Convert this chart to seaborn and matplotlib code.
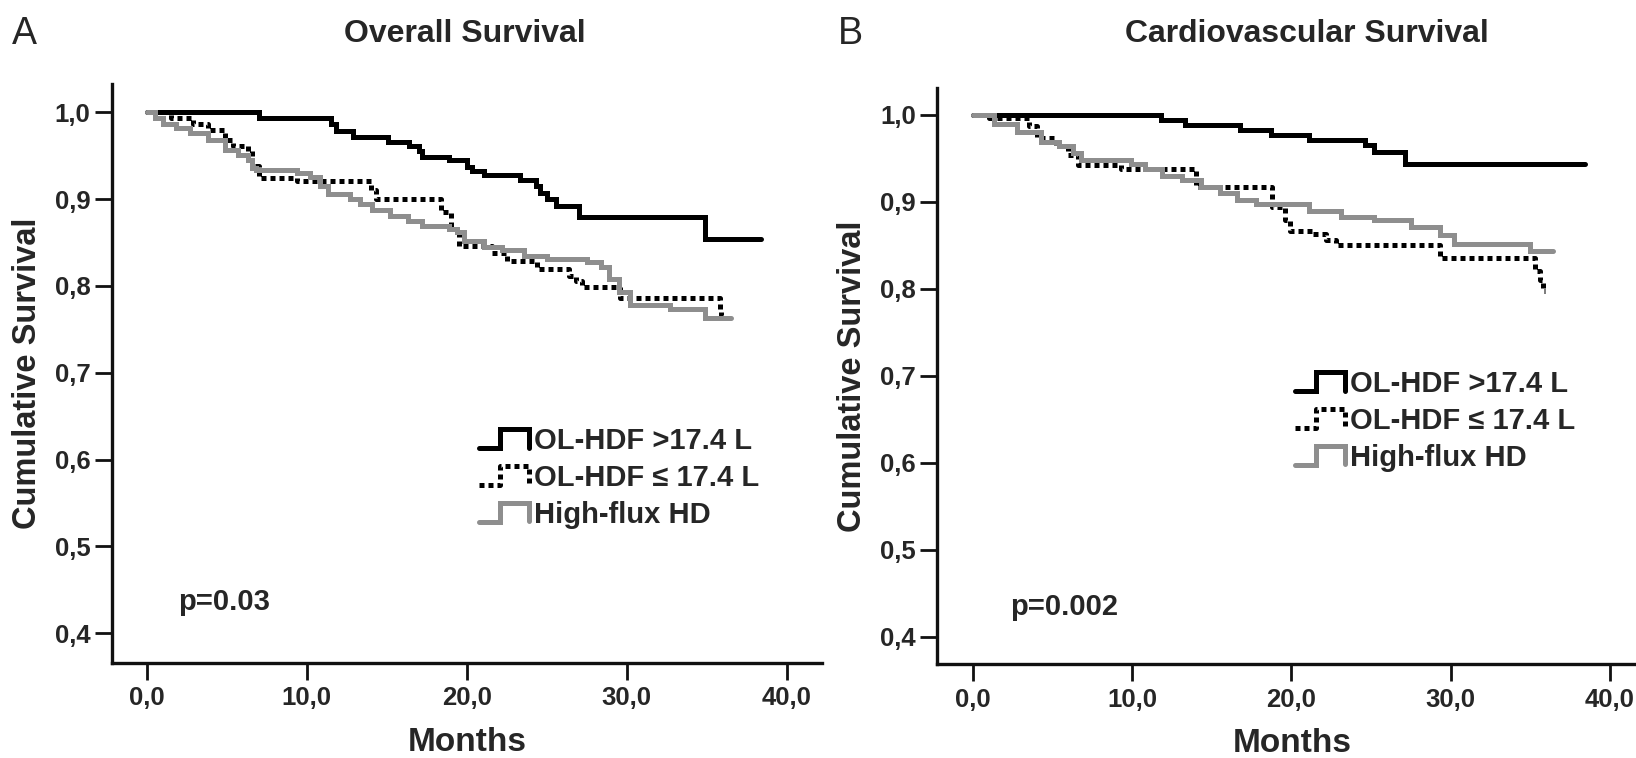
import numpy as np
import pandas as pd
import matplotlib
matplotlib.use("Agg")
import matplotlib.pyplot as plt
import seaborn as sns
from matplotlib.lines import Line2D
from matplotlib.legend_handler import HandlerLine2D

# ---------------- data (step change points: time in months, survival) ----------------
groups = ["OL-HDF >17.4 L", "OL-HDF \u2264 17.4 L", "High-flux HD"]

os_hi_t = [0, 7.0, 11.5, 11.8, 12.9, 15.1, 16.4, 17.0, 17.2, 18.9, 20.0, 20.3, 21.1, 23.3, 24.3, 24.6, 25.0, 25.6, 27.0, 34.9, 38.4]
os_hi_s = [1.0, 0.994, 0.987, 0.978, 0.972, 0.966, 0.961, 0.955, 0.949, 0.945, 0.937, 0.932, 0.928, 0.922, 0.915, 0.907, 0.900, 0.892, 0.879, 0.854, 0.854]

os_lo_t = [0, 1.5, 2.9, 3.8, 4.9, 5.4, 6.3, 6.6, 7.0, 9.4, 14.0, 14.3, 18.4, 19.0, 19.5, 21.6, 22.5, 24.4, 26.4, 26.8, 27.2, 29.6, 35.8, 35.9, 36.1]
os_lo_s = [1.0, 0.993, 0.987, 0.980, 0.968, 0.961, 0.955, 0.938, 0.924, 0.921, 0.910, 0.900, 0.885, 0.865, 0.846, 0.838, 0.829, 0.819, 0.812, 0.806, 0.799, 0.786, 0.772, 0.767, 0.767]

os_hd_t = [0, 0.5, 1.0, 1.8, 2.7, 3.8, 4.9, 5.7, 6.3, 6.6, 6.8, 9.4, 10.2, 10.8, 11.3, 12.7, 13.3, 14.1, 15.2, 16.3, 17.2, 18.9, 19.4, 19.8, 21.1, 22.2, 23.6, 25.0, 27.5, 28.4, 28.9, 29.5, 30.2, 32.7, 34.9, 36.5]
os_hd_s = [1.0, 0.993, 0.987, 0.982, 0.976, 0.968, 0.957, 0.951, 0.945, 0.936, 0.933, 0.930, 0.926, 0.915, 0.906, 0.900, 0.894, 0.887, 0.881, 0.875, 0.869, 0.865, 0.862, 0.852, 0.845, 0.841, 0.835, 0.831, 0.827, 0.822, 0.808, 0.793, 0.778, 0.773, 0.763, 0.763]

cv_hi_t = [0, 11.8, 13.3, 16.8, 18.7, 21.1, 24.6, 25.2, 27.1, 38.4]
cv_hi_s = [1.0, 0.994, 0.988, 0.983, 0.977, 0.971, 0.965, 0.958, 0.944, 0.944]

cv_lo_t = [0, 1.0, 3.5, 4.0, 5.2, 6.0, 6.6, 9.3, 14.0, 18.8, 19.6, 19.9, 21.3, 22.2, 22.8, 29.3, 35.3, 35.6, 35.8, 35.9]
cv_lo_s = [1.0, 0.997, 0.987, 0.973, 0.964, 0.954, 0.942, 0.938, 0.917, 0.894, 0.879, 0.867, 0.863, 0.856, 0.850, 0.835, 0.821, 0.810, 0.798, 0.798]

cv_hd_t = [0, 1.3, 2.8, 4.3, 5.4, 6.3, 6.8, 9.9, 10.8, 11.9, 13.1, 14.3, 15.5, 16.6, 17.8, 21.1, 23.1, 25.2, 27.5, 29.3, 30.2, 35.0, 36.4]
cv_hd_s = [1.0, 0.990, 0.981, 0.969, 0.964, 0.956, 0.948, 0.944, 0.938, 0.930, 0.925, 0.917, 0.910, 0.902, 0.898, 0.890, 0.883, 0.879, 0.871, 0.862, 0.852, 0.844, 0.844]

x_ticks = [0, 10, 20, 30, 40]
x_ticklabels = ["0,0", "10,0", "20,0", "30,0", "40,0"]
y_ticks = [0.4, 0.5, 0.6, 0.7, 0.8, 0.9, 1.0]
y_ticklabels = ["0,4", "0,5", "0,6", "0,7", "0,8", "0,9", "1,0"]

titles = ["Overall Survival", "Cardiovascular Survival"]
panel_letters = ["A", "B"]
p_values = ["p=0.03", "p=0.002"]

# ---------------- style ----------------
sns.set_style("ticks")
plt.rcParams["font.family"] = ["Liberation Sans", "DejaVu Sans"]
plt.rcParams["font.weight"] = "bold"

colors = ["#000000", "#000000", "#8e8e8e"]
styles = ["-", (0, (1.0, 0.8)), "-"]
LW = 3.6

W, H = 1636, 758
fig = plt.figure(figsize=(W / 100, H / 100), dpi=100)

ax_l = fig.add_axes([112 / W, 1 - 662.7 / H, 710 / W, 578.7 / H])
ax_r = fig.add_axes([937.3 / W, 1 - 664 / H, 710 / W, 575.7 / H])


class StepHandler(HandlerLine2D):
    def create_artists(self, legend, orig_handle, xdescent, ydescent, width, height, fontsize, trans):
        xs = np.array([0, 0.42, 0.42, 0.97, 0.97]) * width - xdescent
        ys = np.array([0.08, 0.08, 0.95, 0.95, 0.12]) * height - ydescent
        line = Line2D(xs, ys)
        self.update_prop(line, orig_handle, legend)
        line.set_drawstyle("default")
        line.set_transform(trans)
        return [line]


def draw_panel(ax, series, xlim, ylim, leg_anchor):
    for (t, s), c, ls in zip(series, colors, styles):
        df = pd.DataFrame({"Months": t, "Survival": s})
        sns.lineplot(data=df, x="Months", y="Survival", ax=ax, color=c, linestyle=ls,
                     lw=LW, drawstyle="steps-post", estimator=None, sort=False,
                     errorbar=None, dash_capstyle="butt", solid_joinstyle="miter")
    lines = ax.get_lines()[:3]
    for ln, ls in zip(lines, styles):
        ln.set_linestyle(ls)
    ax.set_xlim(*xlim)
    ax.set_ylim(*ylim)
    ax.set_xticks(x_ticks)
    ax.set_xticklabels(x_ticklabels)
    ax.set_yticks(y_ticks)
    ax.set_yticklabels(y_ticklabels)
    for sp in ["top", "right"]:
        ax.spines[sp].set_visible(False)
    for sp in ["left", "bottom"]:
        ax.spines[sp].set_linewidth(2.4)
        ax.spines[sp].set_color("#111111")
    ax.tick_params(axis="both", length=12, width=2.0, color="#111111",
                   labelsize=18.5, direction="out")
    ax.tick_params(axis="y", pad=3.5)
    ax.tick_params(axis="x", pad=5)
    for lab in ax.get_xticklabels() + ax.get_yticklabels():
        lab.set_fontweight("bold")
    ax.set_xlabel("Months", fontsize=24, fontweight="bold")
    ax.set_ylabel("Cumulative Survival", fontsize=23.5, fontweight="bold", va="center")
    ax.yaxis.set_label_coords(-85 / 710, 0.5)
    ax.xaxis.set_label_coords(0.5, -80 / 578)
    ax.xaxis.label.set_va("center")
    ax.legend(lines, groups, loc="center left", bbox_to_anchor=leg_anchor,
              frameon=False, handlelength=1.75, handleheight=0.8,
              handletextpad=0.15, labelspacing=0.3, borderpad=0, borderaxespad=0,
              handler_map={Line2D: StepHandler()},
              prop={"weight": "bold", "size": 21})


draw_panel(ax_l, [(os_hi_t, os_hi_s), (os_lo_t, os_lo_s), (os_hd_t, os_hd_s)],
           (-2.17, 42.2), (0.366, 1.0326), ((479 - 112) / 710, (662.7 - 478) / 578.7))
draw_panel(ax_r, [(cv_hi_t, cv_hi_s), (cv_lo_t, cv_lo_s), (cv_hd_t, cv_hd_s)],
           (-2.23, 42.34), (0.3686, 1.0307), ((1295 - 937.3) / 710, (664 - 421) / 575.7))

# titles, panel letters, p-values
fig.text(465 / W, 1 - 34 / H, titles[0], ha="center", va="center", fontsize=23, fontweight="bold")
fig.text(1307 / W, 1 - 34 / H, titles[1], ha="center", va="center", fontsize=23, fontweight="bold")
fig.text(12 / W, 1 - 34 / H, panel_letters[0], ha="left", va="center", fontsize=27, fontweight="normal")
fig.text(838 / W, 1 - 34 / H, panel_letters[1], ha="left", va="center", fontsize=27, fontweight="normal")
fig.text(178 / W, 1 - 602 / H, p_values[0], ha="left", va="center", fontsize=21, fontweight="bold")
fig.text(1010 / W, 1 - 607 / H, p_values[1], ha="left", va="center", fontsize=21, fontweight="bold")

fig.savefig("out.png", dpi=100, facecolor="white")
